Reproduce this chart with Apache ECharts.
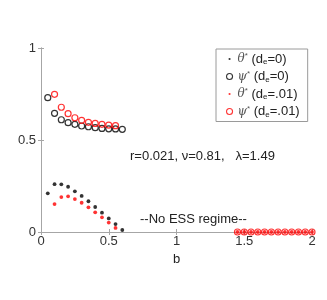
<!DOCTYPE html>
<html>
<head>
<meta charset="utf-8">
<script src="https://cdn.jsdelivr.net/npm/echarts@6/dist/echarts.min.js"></script>
<style>html,body{margin:0;padding:0;background:#fff}#c{width:327px;height:300px}</style>
</head>
<body>
<div id="c"></div>
<script>
// b values
var bBlack = [0.05, 0.10, 0.15, 0.20, 0.25, 0.30, 0.35, 0.40, 0.45, 0.50, 0.55, 0.60];
var thetaBlack = [0.21, 0.26, 0.259, 0.246, 0.221, 0.196, 0.167, 0.136, 0.105, 0.074, 0.043, 0.011];
var psiBlack = [0.73, 0.645, 0.61, 0.594, 0.585, 0.576, 0.572, 0.567, 0.563, 0.561, 0.56, 0.558];
var bRed = [0.10, 0.15, 0.20, 0.25, 0.30, 0.35, 0.40, 0.45, 0.50, 0.55];
var thetaRed = [0.152, 0.19, 0.194, 0.179, 0.159, 0.134, 0.107, 0.08, 0.051, 0.022];
var psiRed = [0.748, 0.678, 0.643, 0.621, 0.607, 0.596, 0.59, 0.585, 0.581, 0.578];
var bZero = [1.45, 1.50, 1.55, 1.60, 1.65, 1.70, 1.75, 1.80, 1.85, 1.90, 1.95, 2.00];
var valZero = [0, 0, 0, 0, 0, 0, 0, 0, 0, 0, 0, 0];
var xTicks = ['0', '0.5', '1', '1.5', '2'];
var yTicks = ['0', '0.5', '1'];
var names = ['θ* (de=0)', 'ψ* (de=0)', 'θ* (de=.01)', 'ψ* (de=.01)'];
var legendRich = {
  'θ* (de=0)': '{g|θ}{s|*} (d{b|e}=0)',
  'ψ* (de=0)': '{g|ψ}{s|*} (d{b|e}=0)',
  'θ* (de=.01)': '{g|θ}{s|*} (d{b|e}=.01)',
  'ψ* (de=.01)': '{g|ψ}{s|*} (d{b|e}=.01)'
};
var noteParams = 'r=0.021, ν=0.81,   λ=1.49';
var noteRegime = '--No ESS regime--';

function zip(xs, ys) { return xs.map(function (x, i) { return [x, ys[i]]; }); }

var FONT = 'Liberation Sans, Arial, sans-serif';
var dotIcon = 'path://M0,0M10,10M3.2,5a1.8,1.8 0 1,0 3.6,0a1.8,1.8 0 1,0 -3.6,0Z';

var chart = echarts.init(document.getElementById('c'), null, {renderer: 'canvas'});
var axisLine = {show: true, lineStyle: {color: '#a6a6a6', width: 1}};
var tick = {show: true, inside: true, length: 3, lineStyle: {color: '#a6a6a6'}};
chart.setOption({
  animation: false,
  backgroundColor: '#fff',
  textStyle: {fontFamily: FONT},
  grid: {left: 41, right: 15, top: 48, bottom: 68, containLabel: false},
  xAxis: [{
    type: 'value', min: 0, max: 2, interval: 0.5, position: 'bottom',
    name: 'b', nameLocation: 'middle', nameGap: 16,
    nameTextStyle: {fontSize: 13, color: '#222', fontFamily: FONT},
    axisLine: axisLine, axisTick: tick,
    axisLabel: {fontSize: 13, color: '#333', margin: 3, fontFamily: FONT,
      formatter: function (v) { return xTicks[Math.round(v / 0.5)]; }},
    splitLine: {show: false}
  }, {
    type: 'value', min: 0, max: 2, interval: 0.5, position: 'top',
    axisLine: axisLine, axisTick: tick,
    axisLabel: {show: false}, splitLine: {show: false}
  }],
  yAxis: [{
    type: 'value', min: 0, max: 1, interval: 0.5, position: 'left',
    axisLine: axisLine, axisTick: tick,
    axisLabel: {fontSize: 13, color: '#333', margin: 5, fontFamily: FONT,
      formatter: function (v) { return yTicks[Math.round(v / 0.5)]; }},
    splitLine: {show: false}
  }, {
    type: 'value', min: 0, max: 1, interval: 0.5, position: 'right',
    axisLine: axisLine, axisTick: tick,
    axisLabel: {show: false}, splitLine: {show: false}
  }],
  legend: {
    orient: 'vertical', left: 216, top: 49,
    padding: [3, 8, 3, 10], itemGap: 3.5,
    itemWidth: 6, itemHeight: 6,
    backgroundColor: '#fff', borderColor: '#9a9a9a', borderWidth: 1,
    selectedMode: false,
    data: [
      {name: names[0], icon: dotIcon, itemStyle: {color: '#000', borderWidth: 0}},
      {name: names[1], icon: 'circle', itemStyle: {color: 'rgba(0,0,0,0)', borderColor: '#000', borderWidth: 1.1}},
      {name: names[2], icon: dotIcon, itemStyle: {color: '#ff0000', borderWidth: 0}},
      {name: names[3], icon: 'circle', itemStyle: {color: 'rgba(0,0,0,0)', borderColor: '#ff0000', borderWidth: 1.1}}
    ],
    formatter: function (n) { return legendRich[n]; },
    textStyle: {
      fontSize: 13, color: '#222', fontFamily: FONT, lineHeight: 14,
      rich: {
        g: {fontSize: 12, fontStyle: 'italic', fontFamily: 'DejaVu Serif, serif', color: '#555', verticalAlign: 'middle', lineHeight: 14},
        s: {fontSize: 8, color: '#555', verticalAlign: 'top', lineHeight: 14},
        b: {fontSize: 8, color: '#222', verticalAlign: 'bottom', lineHeight: 14}
      }
    }
  },
  graphic: [
    {type: 'text', left: 130, top: 150, silent: true,
      style: {text: noteParams, font: '13px ' + FONT, fill: '#222'}},
    {type: 'text', left: 140, top: 213, silent: true,
      style: {text: noteRegime, font: '13px ' + FONT, fill: '#222'}}
  ],
  series: [
    {name: names[0], type: 'scatter', symbol: 'circle', symbolSize: 3.8,
      itemStyle: {color: '#000'}, data: zip(bBlack, thetaBlack), z: 2},
    {name: names[1], type: 'scatter', symbol: 'circle', symbolSize: 6,
      itemStyle: {color: 'rgba(0,0,0,0)', borderColor: '#000', borderWidth: 1.2},
      data: zip(bBlack, psiBlack), z: 2},
    {name: names[2], type: 'scatter', symbol: 'circle', symbolSize: 3.8,
      itemStyle: {color: '#ff0000'}, data: zip(bRed, thetaRed).concat(zip(bZero, valZero)), z: 3},
    {name: names[3], type: 'scatter', symbol: 'circle', symbolSize: 6,
      itemStyle: {color: 'rgba(0,0,0,0)', borderColor: '#ff0000', borderWidth: 1.2},
      data: zip(bRed, psiRed).concat(zip(bZero, valZero)), z: 3}
  ]
});
</script>
</body>
</html>
